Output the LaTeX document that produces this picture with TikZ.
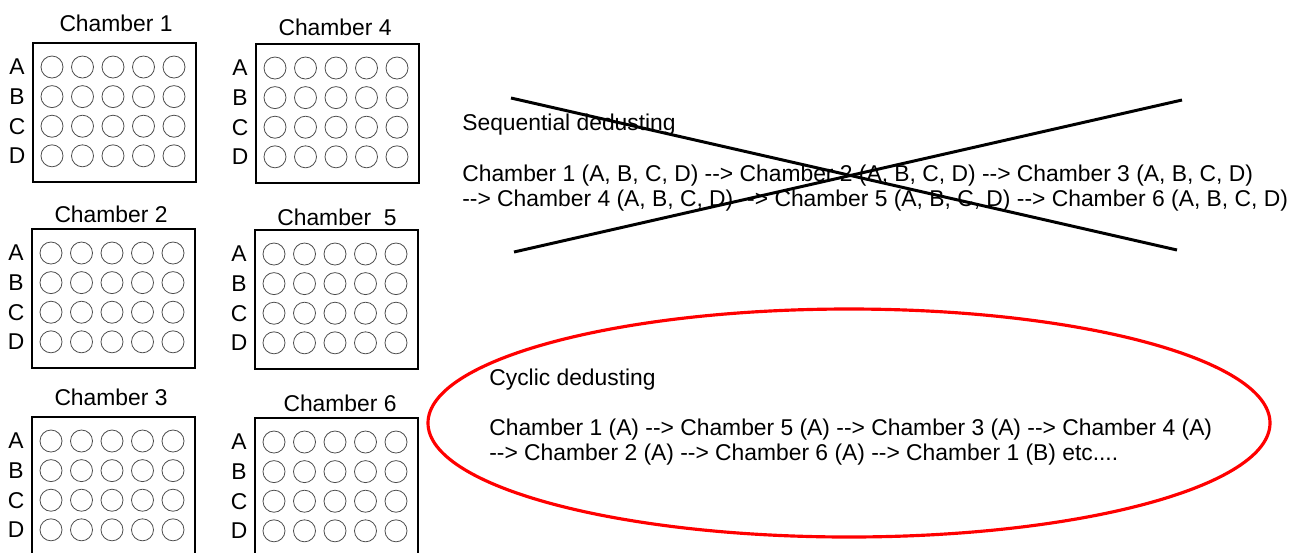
\documentclass[tikz,border=0pt]{standalone}
\usepackage{fontspec}
\setmainfont{Liberation Sans}
\usepackage{tikz}

\tikzset{
    plate/.style={draw, line width=0.6pt},
    well/.style={draw=black!70, line width=0.45pt},
    rowlab/.style={inner sep=0pt, font=\fontsize{13}{15}\selectfont},
    txt/.style={anchor=base west, inner sep=0pt, font=\fontsize{13}{15}\selectfont},
    cross/.style={line width=1.7pt},
    ring/.style={draw=red, line width=1.8pt}
}

\begin{document}
\begin{tikzpicture}[x=0.02cm, y=-0.02cm]

    \clip (0,0) rectangle (1308,552);
    \fill[white] (0,0) rectangle (1308,552);

    % the six chambers
    \foreach \n/\bx/\by/\lx/\ly/\name in {1/33/43/116/23/Chamber 1, 4/256/44/335/27/Chamber 4,
        2/32/229/111/214/Chamber 2, 5/255/230/337/217/Chamber~ 5,
        3/32/417/111/397/Chamber 3, 6/255/418/340/403/Chamber 6}{
        \node[rowlab] (lab\n) at (\lx,\ly) {\name};
        \draw[plate] (\bx,\by) rectangle ++(163,139);
        \foreach \r [count=\i from 0] in {A,B,C,D}{
            \node[rowlab] (row\n\r) at (\bx-16,\by+24+29.6*\i) {\r};
            \foreach \j in {0,...,4}
                \draw[well] (\bx+19+30.5*\j,\by+24+29.6*\i) circle (11);
        }
    }

    % sequential dedusting, crossed out
    \node[txt] (seqhead) at (462,130) {Sequential dedusting};
    \node[txt] (seqa) at (462,181) {Chamber 1 (A, B, C, D) -{}-> Chamber 2 (A, B, C, D) -{}-> Chamber 3 (A, B, C, D)};
    \node[txt] (seqb) at (462,206) {-{}-> Chamber 4 (A, B, C, D) -{}-> Chamber 5 (A, B, C, D) -{}-> Chamber 6 (A, B, C, D)};

    \coordinate (xa) at (511,98);
    \coordinate (xb) at (1177,250);
    \coordinate (xc) at (514,252);
    \coordinate (xd) at (1182,100);
    \draw[cross] (xa) -- (xb);
    \draw[cross] (xc) -- (xd);

    % cyclic dedusting, circled
    \node[txt] (cychead) at (489,385) {Cyclic dedusting};
    \node[txt] (cyca) at (489,435) {Chamber 1 (A) -{}-> Chamber 5 (A) -{}-> Chamber 3 (A) -{}-> Chamber 4 (A)};
    \node[txt] (cycb) at (489,460) {-{}-> Chamber 2 (A) -{}-> Chamber 6 (A) -{}-> Chamber 1 (B) etc....};

    \draw[ring] (849,423) ellipse [x radius=421, y radius=114];

\end{tikzpicture}
\end{document}
